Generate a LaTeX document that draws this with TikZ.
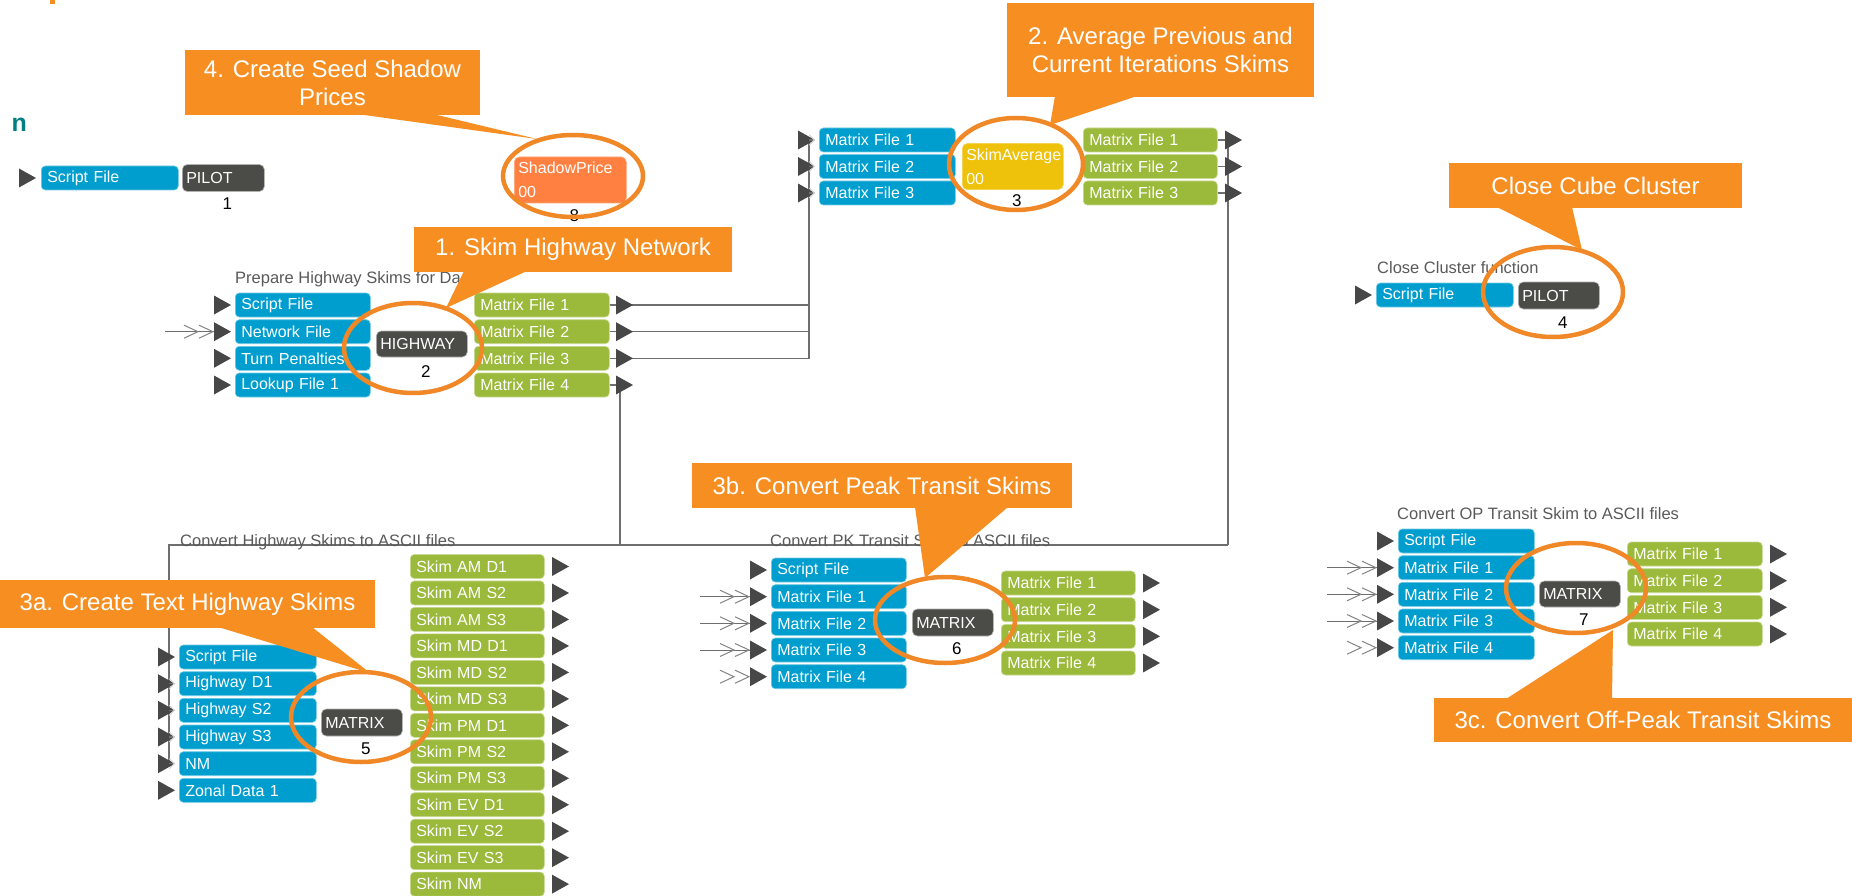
\documentclass[tikz,border=0pt]{standalone}
\usepackage{fontspec}
\setmainfont{Liberation Sans}
\usetikzlibrary{arrows.meta,shapes.geometric}

\definecolor{fileIn}{HTML}{009ECE}
\definecolor{fileOut}{HTML}{9BB93A}
\definecolor{procDark}{HTML}{4B4B48}
\definecolor{procCoral}{HTML}{FF8040}
\definecolor{procGold}{HTML}{EEC10A}
\definecolor{noteOrange}{HTML}{F68E22}
\definecolor{ringOrange}{HTML}{F08828}
\definecolor{portDark}{HTML}{474747}
\definecolor{wireGrey}{HTML}{6E6E6E}
\definecolor{titleGrey}{HTML}{5A5A5A}
\definecolor{headTeal}{HTML}{008080}

% a filled port triangle: name, left x, centre y
\newcommand\ioport[3]{%
  \fill[portDark] (#2,#3-9.5) -- (#2+17,#3) -- (#2,#3+9.5) -- cycle;
  \coordinate (#1-b) at (#2,#3);
  \coordinate (#1) at (#2+17,#3);}
% the double chevron in front of a linked input port
\newcommand\chevpair[1]{%
  \draw[chev, shift={(#1-b)}] (-30,-6.5) -- (-16,0) -- (-30,6.5)
                             (-15,-6.5) -- (-1,0) -- (-15,6.5);}

\tikzset{
  boxfont/.style={font=\fontsize{16}{18}\selectfont},
  filebox/.style={anchor=west, rectangle, rounded corners=4pt, minimum height=24pt,
    inner xsep=6pt, inner ysep=0pt, text=white, boxfont, align=left, line width=0.6pt},
  infile/.style={filebox, text width=#1, fill=fileIn, draw=fileIn!55!white},
  outfile/.style={filebox, text width=#1, fill=fileOut, draw=fileOut!55!white},
  proc/.style={anchor=west, rectangle, rounded corners=5pt, inner xsep=4pt, inner ysep=0pt,
    text width=#1, fill=procDark, draw=gray!60, line width=0.6pt, text=white, boxfont,
    align=left, minimum height=27pt},
  proc2/.style={proc=#1, font=\fontsize{16}{24}\selectfont, minimum height=46pt},
  idx/.style={font=\fontsize{17}{20}\selectfont, text=black, inner sep=0pt},
  grptitle/.style={anchor=base west, inner sep=0pt, text=titleGrey, font=\fontsize{16.5}{18}\selectfont},
  ring/.style={ellipse, draw=ringOrange, line width=4.5pt, inner sep=0pt},
  note/.style={rectangle, fill=noteOrange, inner sep=0pt, text=white, align=center,
    font=\fontsize{24}{28}\selectfont},
  wire/.style={draw=wireGrey, line width=1.2pt},
  barb/.style={wire, -{Straight Barb[length=5pt,width=10pt,line width=1pt,color=gray!35]}},
  chev/.style={draw=wireGrey!85, line width=1pt},
}

\begin{document}
\begin{tikzpicture}[x=1pt,y=-1pt]
\fill[white] (0,0) rectangle (1852,896);
\useasboundingbox (0,0) rectangle (1852,896);

% ---------- bus coordinates
\coordinate (busL) at (809,140);
\coordinate (trunkR) at (1228,545);
\coordinate (busA) at (169,545);
\coordinate (trunkM) at (620,545);

% ---------- heading fragments
\fill[noteOrange] (50,0) rectangle (55,4);
\node[anchor=base west, inner sep=0pt, text=headTeal, font=\fontsize{25}{28}\selectfont\bfseries] (headn) at (11.5,132) {n};

% ---------- boxes (placed first so wires can refer to them)
% PILOT 1
\node[infile=125pt] (pA-sf) at (41,178) {Script File};
\node[proc=74pt] (pA) at (182,178) {PILOT};

% ShadowPrice 8
\node[proc2=104pt, fill=procCoral, draw=procCoral!70!white] (sp) at (514,180) {ShadowPrice\\00};

% HIGHWAY 2
\node[infile=123pt] (hw-f1) at (235,305) {Script File};
\node[infile=123pt] (hw-f2) at (235,331.7) {Network File};
\node[infile=123pt] (hw-f3) at (235,358.3) {Turn Penalties};
\node[infile=123pt] (hw-f4) at (235,385) {Lookup File 1};
\node[proc=83pt, minimum height=26pt] (hw) at (376,344) {HIGHWAY};
\node[outfile=123pt] (hw-o1) at (474,305) {Matrix File 1};
\node[outfile=123pt] (hw-o2) at (474,331.7) {Matrix File 2};
\node[outfile=123pt] (hw-o3) at (474,358.3) {Matrix File 3};
\node[outfile=123pt] (hw-o4) at (474,385) {Matrix File 4};

% SkimAverage 3
\node[infile=124pt] (sa-f1) at (819,140) {Matrix File 1};
\node[infile=124pt] (sa-f2) at (819,166.5) {Matrix File 2};
\node[infile=124pt] (sa-f3) at (819,193) {Matrix File 3};
\node[proc2=93pt, fill=procGold, draw=procGold!70!white] (sa) at (962,166.5) {SkimAverage\\00};
\node[outfile=122pt] (sa-o1) at (1083,140) {Matrix File 1};
\node[outfile=122pt] (sa-o2) at (1083,166.5) {Matrix File 2};
\node[outfile=122pt] (sa-o3) at (1083,193) {Matrix File 3};

% ---------- wires
\draw[wire] (hw-o1.east) -| (busL);
\draw[wire] (hw-o2.east) -| (busL);
\draw[wire] (hw-o3.east) -| (busL);
\draw[wire] (hw-o4.east) -| (trunkM);
\draw[wire] (sa-o1.east) -| (trunkR);
\draw[wire] (sa-o2.east) -- (sa-o2.east -| trunkR);
\draw[wire] (sa-o3.east) -- (sa-o3.east -| trunkR);
\draw[wire] (trunkR) -- (busA) -- ([yshift=0pt]busA |- 0,763.7);

% ---------- PILOT 1 group
\ioport{pA-in}{19}{178}
\node[idx] (pA-n) at ([xshift=4pt,yshift=-12pt]pA.south) {1};

% ---------- ShadowPrice 8
\node[idx] (sp-n) at ([xshift=4pt,yshift=-12pt]sp.south) {8};

% ---------- HIGHWAY 2 group
\node[grptitle] (hw-t) at (235,283) {Prepare Highway Skims for Da};
\ioport{hw-i1}{214}{305}
\ioport{hw-i2}{214}{331.7}
\ioport{hw-i3}{214}{358.3}
\ioport{hw-i4}{214}{385}
\coordinate (hw-src) at (165,331.7);
\draw[wire] (hw-src) -- (hw-i2-b);
\chevpair{hw-i2}
\node[idx] (hw-n) at ([xshift=4pt,yshift=-14pt]hw.south) {2};
\ioport{hw-p1}{616}{305}
\ioport{hw-p2}{616}{331.7}
\ioport{hw-p3}{616}{358.3}
\ioport{hw-p4}{616}{385}

% ---------- SkimAverage 3 group
\ioport{sa-i1}{798}{140}
\ioport{sa-i2}{798}{166.5}
\ioport{sa-i3}{798}{193}
\node[idx] (sa-n) at ([xshift=4pt,yshift=-11pt]sa.south) {3};
\ioport{sa-p1}{1225}{140}
\ioport{sa-p2}{1225}{166.5}
\ioport{sa-p3}{1225}{193}
\draw[barb] (busL) -- (sa-i1);
\draw[barb] (busL |- sa-i2) -- (sa-i2);
\draw[barb] (busL |- sa-i3) -- (sa-i3);

% ---------- Close cluster PILOT 4
\node[grptitle] (cc-t) at (1377,273) {Close Cluster function};
\ioport{cc-in}{1355}{295}
\node[infile=125pt] (cc-sf) at (1376,295) {Script File};
\node[proc=73pt] (cc) at (1518,295.5) {PILOT};
\node[idx] (cc-n) at ([xshift=4pt,yshift=-13pt]cc.south) {4};

% ---------- Highway skims to ASCII, MATRIX 5
\node[grptitle] (mh-t) at (180,546) {Convert Highway Skims to ASCII files};
\foreach \r/\t [count=\k] in {657/Script File, 683.7/Highway D1, 710.3/Highway S2,
    737/Highway S3, 763.7/NM, 790.3/Zonal Data 1}{
  \ioport{mh-i\k}{158}{\r}
  \node[infile=125pt] (mh-f\k) at (179,\r) {\t};
}
\draw[barb] (busA |- mh-i2) -- (mh-i2);
\draw[barb] (busA |- mh-i3) -- (mh-i3);
\draw[barb] (busA |- mh-i4) -- (mh-i4);
\draw[barb] (busA |- mh-i5) -- (mh-i5);
\node[proc=73pt] (mh) at (321,722.5) {MATRIX};
\node[idx] (mh-n) at ([xshift=4pt,yshift=-12pt]mh.south) {5};
\foreach \t [count=\k] in {Skim AM D1, Skim AM S2, Skim AM S3, Skim MD D1, Skim MD S2,
    Skim MD S3, Skim PM D1, Skim PM S2, Skim PM S3, Skim EV D1, Skim EV S2, Skim EV S3, Skim NM}{
  \pgfmathsetmacro\yy{566.5+(\k-1)*26.47}
  \node[outfile=122pt] (mh-o\k) at (410,\yy) {\t};
  \ioport{mh-p\k}{552}{\yy}
}

% ---------- PK transit skims, MATRIX 6
\node[grptitle] (pk-t) at (770,546) {Convert PK Transit Skim to ASCII files};
\foreach \r/\t [count=\k] in {570/Script File, 596.7/Matrix File 1, 623.3/Matrix File 2,
    650/Matrix File 3, 676.7/Matrix File 4}{
  \ioport{pk-i\k}{750}{\r}
  \node[infile=123pt] (pk-f\k) at (771,\r) {\t};
}
\foreach \k in {2,3,4}{
  \coordinate (pk-s\k) at (700,0 |- pk-i\k);
  \draw[wire, line width=1pt] (pk-s\k) -- (pk-i\k-b);
}
\foreach \k in {2,3,4,5}{ \chevpair{pk-i\k} }
\node[proc=73pt] (pk) at (912,622.5) {MATRIX};
\node[idx] (pk-n) at ([xshift=4pt,yshift=-12pt]pk.south) {6};
\foreach \r/\t [count=\k] in {583/Matrix File 1, 609.7/Matrix File 2, 636.3/Matrix File 3, 663/Matrix File 4}{
  \node[outfile=122pt] (pk-o\k) at (1001,\r) {\t};
  \ioport{pk-p\k}{1143}{\r}
}

% ---------- OP transit skims, MATRIX 7
\node[grptitle] (op-t) at (1397,519) {Convert OP Transit Skim to ASCII files};
\foreach \r/\t [count=\k] in {541/Script File, 567.7/Matrix File 1, 594.3/Matrix File 2,
    621/Matrix File 3, 647.7/Matrix File 4}{
  \ioport{op-i\k}{1377}{\r}
  \node[infile=124pt] (op-f\k) at (1398,\r) {\t};
}
\foreach \k in {2,3,4}{
  \coordinate (op-s\k) at (1327,0 |- op-i\k);
  \draw[wire, line width=1pt] (op-s\k) -- (op-i\k-b);
}
\foreach \k in {2,3,4,5}{ \chevpair{op-i\k} }
\node[proc=73pt, minimum height=26pt] (op) at (1539,594) {MATRIX};
\node[idx] (op-n) at ([xshift=4pt,yshift=-12pt]op.south) {7};
\foreach \r/\t [count=\k] in {554/Matrix File 1, 580.7/Matrix File 2, 607.3/Matrix File 3, 634/Matrix File 4}{
  \node[outfile=123pt] (op-o\k) at (1627,\r) {\t};
  \ioport{op-p\k}{1770}{\r}
}

% ---------- highlight rings
\node[ring, minimum width=140pt, minimum height=82pt] (sp-ring) at (573,176) {};
\node[ring, minimum width=138pt, minimum height=90pt] (hw-ring) at (413,348) {};
\node[ring, minimum width=134pt, minimum height=92pt] (sa-ring) at (1016,164) {};
\node[ring, minimum width=140pt, minimum height=90pt] (cc-ring) at (1553,292) {};
\node[ring, minimum width=140pt, minimum height=90pt] (mh-ring) at (361,717) {};
\node[ring, minimum width=140pt, minimum height=86pt] (pk-ring) at (945,620) {};
\node[ring, minimum width=140pt, minimum height=90pt] (op-ring) at (1576,588) {};

% ---------- callouts
\node[note, minimum width=295pt, minimum height=65pt] (n4) at (332.5,82.5) {4. Create Seed Shadow\\Prices};
\coordinate (n4-tip) at (537,139);
\fill[noteOrange] (357,114) -- (n4-tip) -- (433,114) -- cycle;

\node[note, minimum width=307pt, minimum height=94pt] (n2) at (1160.5,50) {2. Average Previous and\\Current Iterations Skims};
\coordinate (n2-tip) at (1050,125);
\fill[noteOrange] (1055,96) -- (n2-tip) -- (1137,96) -- cycle;

\node[note, minimum width=318pt, minimum height=45pt] (n1) at (573,249.5) {1. Skim Highway Network};
\coordinate (n1-tip) at (446,308);
\fill[noteOrange] (464,271) -- (n1-tip) -- (527,271) -- cycle;

\node[note, minimum width=293pt, minimum height=45pt] (nc) at (1595.5,185.5) {Close Cube Cluster};
\coordinate (nc-tip) at (1582,250);
\fill[noteOrange] (1497,207) -- (nc-tip) -- (1572,207) -- cycle;

\node[note, minimum width=375pt, minimum height=48pt] (n3a) at (187.5,604) {3a. Create Text Highway Skims};
\coordinate (n3a-tip) at (370,673);
\fill[noteOrange] (218,627) -- (n3a-tip) -- (312,627) -- cycle;

\node[note, minimum width=380pt, minimum height=45pt] (n3b) at (882,485.5) {3b. Convert Peak Transit Skims};
\coordinate (n3b-tip) at (925,578);
\fill[noteOrange] (915,507) -- (n3b-tip) -- (1008,507) -- cycle;

\node[note, minimum width=418pt, minimum height=44pt] (n3c) at (1643,720) {3c. Convert Off-Peak Transit Skims};
\coordinate (n3c-tip) at (1613,630);
\fill[noteOrange] (1506,699) -- (n3c-tip) -- (1612,699) -- cycle;
\end{tikzpicture}
\end{document}
